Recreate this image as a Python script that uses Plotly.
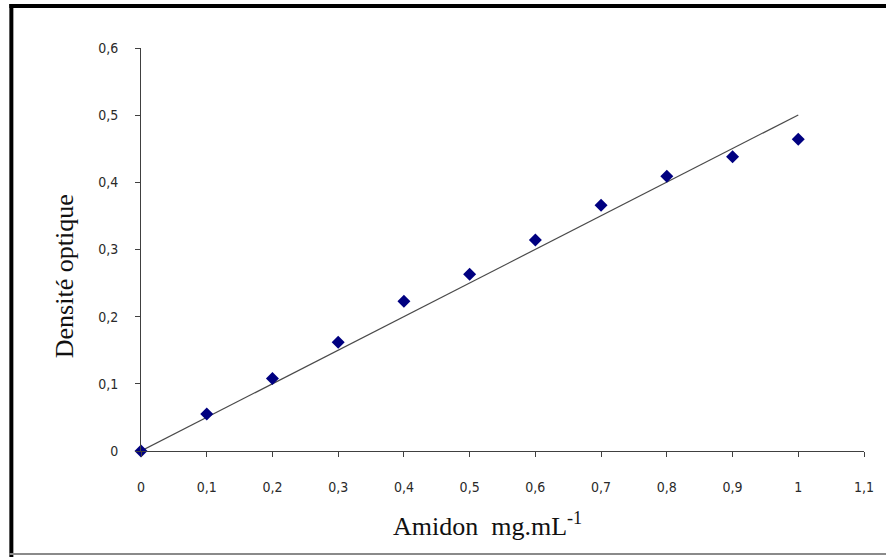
import numpy as np
import plotly.graph_objects as go

# Starch calibration: concentration (mg/mL) vs optical density
amidon = [0, 0.1, 0.2, 0.3, 0.4, 0.5, 0.6, 0.7, 0.8, 0.9, 1.0]
densite = [0, 0.055, 0.108, 0.162, 0.223, 0.263, 0.314, 0.366, 0.409, 0.438, 0.464]

x_ticks = [0, 0.1, 0.2, 0.3, 0.4, 0.5, 0.6, 0.7, 0.8, 0.9, 1.0, 1.1]
x_ticktext = ["0", "0,1", "0,2", "0,3", "0,4", "0,5", "0,6", "0,7", "0,8", "0,9", "1", "1,1"]
y_ticks = [0, 0.1, 0.2, 0.3, 0.4, 0.5, 0.6]
y_ticktext = ["0", "0,1", "0,2", "0,3", "0,4", "0,5", "0,6"]

# Linear trend forced through the origin (least squares)
xa = np.array(amidon)
ya = np.array(densite)
slope = float((xa * ya).sum() / (xa * xa).sum())
trend_x = [0.0, 1.0]
trend_y = [slope * v for v in trend_x]

W, H = 886, 557
L, R, T, B = 141, 20, 48, 106
pw, ph = W - L - R, H - T - B


def px(xp):
    return (xp - L) / pw


def py(yp):
    return (H - B - yp) / ph


fig = go.Figure()
fig.add_trace(go.Scatter(
    x=trend_x, y=trend_y, mode="lines",
    line=dict(color="#4a4a4a", width=1.2),
    hoverinfo="skip", showlegend=False,
))
fig.add_trace(go.Scatter(
    x=amidon, y=densite, mode="markers",
    marker=dict(symbol="diamond", size=10, color="#000080",
                line=dict(width=0)),
    cliponaxis=False, showlegend=False,
))

tick_font = dict(family="DejaVu Sans Condensed", size=14, color="#2a2a2a")

fig.update_xaxes(
    range=[0, 1.1], tickvals=x_ticks, ticktext=x_ticktext,
    showgrid=False, zeroline=False, showline=True, linecolor="#404040",
    linewidth=1, ticks="outside", ticklen=5, tickcolor="#404040",
    tickfont=tick_font, ticklabelstandoff=18,
)
fig.update_yaxes(
    range=[0, 0.6], tickvals=y_ticks, ticktext=y_ticktext,
    showgrid=False, zeroline=False, showline=True, linecolor="#404040",
    linewidth=1, ticks="outside", ticklen=5, tickcolor="#404040",
    tickfont=tick_font, ticklabelstandoff=14,
)

title_font = dict(family="Liberation Serif", size=26, color="#111111")

fig.add_annotation(
    text="Densité optique", textangle=-90, showarrow=False,
    xref="paper", yref="paper", x=px(64), y=py(276),
    xanchor="center", yanchor="middle", font=title_font,
)
fig.add_annotation(
    text="Amidon  mg.mL<sup>-1</sup>", showarrow=False,
    xref="paper", yref="paper", x=px(488), y=py(524),
    xanchor="center", yanchor="middle", font=title_font,
)

# Frame around the chart
fig.add_shape(type="line", xref="paper", yref="paper",
              x0=px(11), x1=px(11), y0=py(4), y1=py(560),
              line=dict(color="black", width=4))
fig.add_shape(type="line", xref="paper", yref="paper",
              x0=px(9), x1=px(890), y0=py(6), y1=py(6),
              line=dict(color="black", width=4))
fig.add_shape(type="line", xref="paper", yref="paper",
              x0=px(9), x1=px(890), y0=py(554), y1=py(554),
              line=dict(color="#8a8a8a", width=2))

fig.update_layout(
    width=W, height=H,
    margin=dict(l=L, r=R, t=T, b=B),
    paper_bgcolor="white", plot_bgcolor="white",
    showlegend=False,
)

fig.write_html("out.html")
